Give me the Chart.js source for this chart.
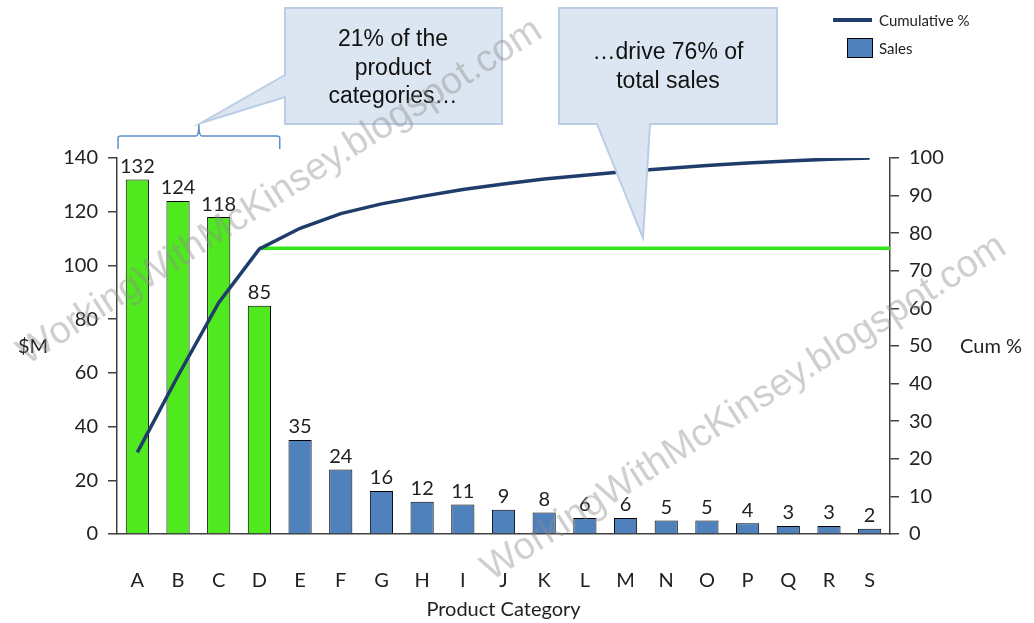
<!DOCTYPE html>
<html>
<head>
<meta charset="utf-8">
<script src="https://cdn.jsdelivr.net/npm/chart.js@4.4.0/dist/chart.umd.min.js"></script>
<style>
  html, body { margin: 0; padding: 0; background: #fff; }
  #wrap { width: 1034px; height: 623px; position: relative; }
</style>
</head>
<body>
<div id="wrap"><canvas id="paretoChart"></canvas></div>
<script>
// --- Data ---
const categories = ['A', 'B', 'C', 'D', 'E', 'F', 'G', 'H', 'I', 'J', 'K', 'L', 'M', 'N', 'O', 'P', 'Q', 'R', 'S'];
const salesValues = [132, 124, 118, 85, 35, 24, 16, 12, 11, 9, 8, 6, 6, 5, 5, 4, 3, 3, 2];
const cumulativePct = [21.7, 42.1, 61.5, 75.8, 81.3, 85.2, 87.8, 89.8, 91.6, 93.1, 94.4, 95.4, 96.4, 97.2, 98.0, 98.7, 99.2, 99.7, 100];
const leftTicks = [0, 20, 40, 60, 80, 100, 120, 140];
const rightTicks = [0, 10, 20, 30, 40, 50, 60, 70, 80, 90, 100];
const highlightCount = 4;
const thresholdPct = 76;
const calloutLeftText = ['21% of the', 'product', 'categories\u2026'];
const calloutRightText = ['\u2026drive 76% of', 'total sales'];
const watermarkText = 'WorkingWithMcKinsey.blogspot.com';

// --- Styles ---
const GREEN = 'rgb(80, 232, 30)';
const BLUE = '#4F81BD';
const NAVY = '#1F3D6B';
const AXIS = '#404040';
const TEXT = '#222';
const LABEL_FONT = 'Lato, "Open Sans", sans-serif';
const CALLOUT_FONT = '"Liberation Sans", Arial, sans-serif';

const barColors = salesValues.map((v, i) => i < highlightCount ? GREEN : BLUE);

// --- Helpers ---
function drawBubble(ctx, pts) {
    ctx.save();
    ctx.beginPath();
    ctx.moveTo(pts[0][0], pts[0][1]);
    for (let i = 1; i < pts.length; i++) ctx.lineTo(pts[i][0], pts[i][1]);
    ctx.closePath();
    ctx.fillStyle = '#DCE6F2';
    ctx.fill();
    ctx.lineWidth = 2;
    ctx.strokeStyle = '#B9CDE5';
    ctx.stroke();
    ctx.restore();
}

function drawLines(ctx, lines, cx, y0, step) {
    ctx.save();
    ctx.font = '23px ' + CALLOUT_FONT;
    ctx.fillStyle = '#111';
    ctx.textAlign = 'center';
    ctx.textBaseline = 'middle';
    lines.forEach((t, i) => ctx.fillText(t, cx, y0 + i * step));
    ctx.restore();
}

// --- Plugin: annotations, labels, legend, watermark ---
const paretoDecor = {
    id: 'paretoDecor',
    beforeDatasetsDraw(chart) {
        const ctx = chart.ctx;
        const x = chart.scales.x;
        const yR = chart.scales.yR;
        const yPix = yR.getPixelForValue(thresholdPct);
        ctx.save();
        ctx.strokeStyle = '#33E51A';
        ctx.lineWidth = 3.5;
        ctx.beginPath();
        ctx.moveTo(x.getPixelForValue(highlightCount - 1), yPix);
        ctx.lineTo(chart.chartArea.right, yPix);
        ctx.stroke();
        ctx.restore();
    },
    afterDraw(chart) {
        const ctx = chart.ctx;
        const area = chart.chartArea;
        const x = chart.scales.x;
        const y = chart.scales.y;

        // bar value labels
        ctx.save();
        ctx.font = '20px ' + LABEL_FONT;
        ctx.fillStyle = TEXT;
        ctx.textAlign = 'center';
        ctx.textBaseline = 'bottom';
        salesValues.forEach((v, i) => {
            ctx.fillText(String(v), x.getPixelForValue(i), y.getPixelForValue(v) - 3);
        });
        ctx.restore();

        // axis titles
        ctx.save();
        ctx.font = '20px ' + LABEL_FONT;
        ctx.fillStyle = TEXT;
        ctx.textBaseline = 'middle';
        ctx.textAlign = 'center';
        ctx.fillText('$M', 33, 347);
        ctx.fillText('Cum %', 991, 347);
        ctx.fillText('Product Category', (area.left + area.right) / 2, 610);
        ctx.restore();

        // brace over highlighted categories
        const braceL = area.left + 1;
        const braceR = (x.getPixelForValue(highlightCount - 1) + x.getPixelForValue(highlightCount)) / 2;
        const braceM = (braceL + braceR) / 2;
        ctx.save();
        ctx.strokeStyle = '#5B8DC9';
        ctx.lineWidth = 1.5;
        ctx.beginPath();
        ctx.moveTo(braceL, 149);
        ctx.lineTo(braceL, 138);
        ctx.quadraticCurveTo(braceL, 136, braceL + 3, 136);
        ctx.lineTo(braceM - 3, 136);
        ctx.quadraticCurveTo(braceM, 136, braceM, 124);
        ctx.quadraticCurveTo(braceM, 136, braceM + 3, 136);
        ctx.lineTo(braceR - 3, 136);
        ctx.quadraticCurveTo(braceR, 136, braceR, 138);
        ctx.lineTo(braceR, 149);
        ctx.stroke();
        ctx.restore();

        // callouts
        drawBubble(ctx, [[285, 8], [502, 8], [502, 124], [285, 124], [285, 97], [braceM + 2, 123], [285, 75]]);
        drawLines(ctx, calloutLeftText, 393, 40, 28.5);
        drawBubble(ctx, [[559, 8], [777, 8], [777, 124], [650, 124], [643, 238], [597, 124], [559, 124]]);
        drawLines(ctx, calloutRightText, 668, 53, 29);

        // legend
        ctx.save();
        ctx.strokeStyle = NAVY;
        ctx.lineWidth = 4;
        ctx.beginPath();
        ctx.moveTo(833, 20);
        ctx.lineTo(872, 20);
        ctx.stroke();
        ctx.fillStyle = BLUE;
        ctx.fillRect(847, 38, 26, 20);
        ctx.strokeStyle = '#000';
        ctx.lineWidth = 1;
        ctx.strokeRect(847.5, 38.5, 25, 19);
        ctx.font = '15px ' + LABEL_FONT;
        ctx.fillStyle = TEXT;
        ctx.textAlign = 'left';
        ctx.textBaseline = 'middle';
        ctx.fillText('Cumulative %', 879, 21);
        ctx.fillText('Sales', 879, 49);
        ctx.restore();

        // watermark
        ctx.save();
        ctx.font = '38px ' + CALLOUT_FONT;
        ctx.fillStyle = 'rgba(140, 140, 140, 0.42)';
        ctx.textAlign = 'center';
        ctx.textBaseline = 'middle';
        [[280, 192], [744, 408]].forEach(c => {
            ctx.save();
            ctx.translate(c[0], c[1]);
            ctx.rotate(-32.5 * Math.PI / 180);
            ctx.fillText(watermarkText, 0, 0);
            ctx.restore();
        });
        ctx.restore();
    }
};

// --- Chart ---
const ctx = document.getElementById('paretoChart').getContext('2d');
new Chart(ctx, {
    type: 'bar',
    data: {
        labels: categories,
        datasets: [
            {
                type: 'line',
                label: 'Cumulative %',
                data: cumulativePct,
                yAxisID: 'yR',
                borderColor: NAVY,
                borderWidth: 3.5,
                pointRadius: 0,
                tension: 0,
                fill: false,
                order: 0
            },
            {
                type: 'bar',
                label: 'Sales',
                data: salesValues,
                yAxisID: 'y',
                backgroundColor: barColors,
                borderColor: '#000',
                borderWidth: 1,
                barPercentage: 0.57,
                categoryPercentage: 1.0,
                order: 1
            }
        ]
    },
    options: {
        responsive: true,
        maintainAspectRatio: false,
        animation: false,
        layout: { padding: { top: 158, left: 0, right: 0, bottom: 0 } },
        plugins: {
            legend: { display: false },
            tooltip: { enabled: false },
            title: { display: false }
        },
        scales: {
            x: {
                grid: { display: false },
                border: { color: AXIS, width: 1.5 },
                ticks: { color: TEXT, font: { size: 20, family: LABEL_FONT }, padding: 27, maxRotation: 0 },
                afterFit: s => { s.height = 89; }
            },
            y: {
                position: 'left',
                min: leftTicks[0],
                max: leftTicks[leftTicks.length - 1],
                afterBuildTicks: s => { s.ticks = leftTicks.map(v => ({ value: v })); },
                grid: { drawOnChartArea: false, tickLength: 9, color: AXIS, lineWidth: 1.5 },
                border: { color: AXIS, width: 1.5 },
                ticks: { color: TEXT, font: { size: 20, family: LABEL_FONT }, padding: 10 },
                afterFit: s => { s.width = 117; }
            },
            yR: {
                position: 'right',
                min: rightTicks[0],
                max: rightTicks[rightTicks.length - 1],
                afterBuildTicks: s => { s.ticks = rightTicks.map(v => ({ value: v })); },
                grid: { drawOnChartArea: false, tickLength: 9, color: AXIS, lineWidth: 1.5 },
                border: { color: AXIS, width: 1.5 },
                ticks: { color: TEXT, font: { size: 20, family: LABEL_FONT }, padding: 10 },
                afterFit: s => { s.width = 144; }
            }
        }
    },
    plugins: [paretoDecor]
});
</script>
</body>
</html>
